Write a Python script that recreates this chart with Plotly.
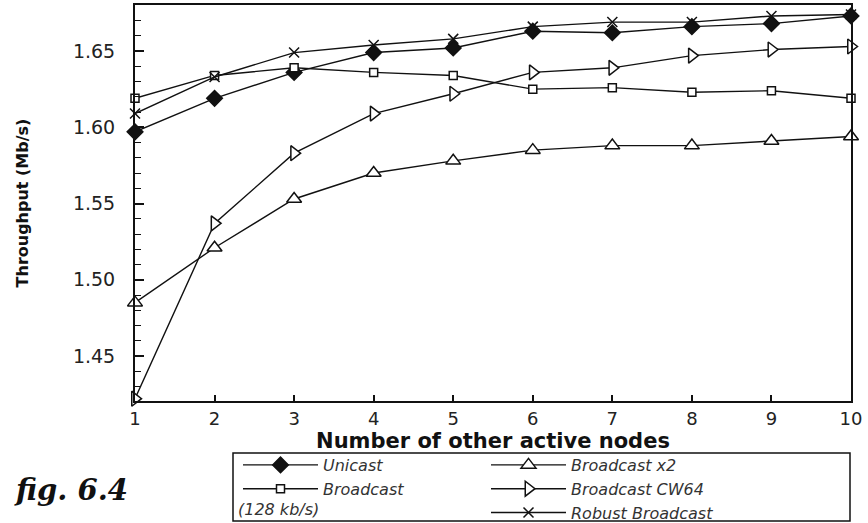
import plotly.graph_objects as go

nodes = [1, 2, 3, 4, 5, 6, 7, 8, 9, 10]
unicast = [1.597, 1.619, 1.636, 1.649, 1.652, 1.663, 1.662, 1.666, 1.668, 1.673]
broadcast_x2 = [1.485, 1.521, 1.553, 1.570, 1.578, 1.585, 1.588, 1.588, 1.591, 1.594]
broadcast = [1.619, 1.634, 1.639, 1.636, 1.634, 1.625, 1.626, 1.623, 1.624, 1.619]
broadcast_cw64 = [1.422, 1.537, 1.583, 1.609, 1.622, 1.636, 1.639, 1.647, 1.651, 1.653]
robust = [1.609, 1.633, 1.649, 1.654, 1.658, 1.666, 1.669, 1.669, 1.673, 1.674]

y_range = [1.4205, 1.6802]
y_ticks = [1.45, 1.50, 1.55, 1.60, 1.65]

# plot-area geometry in pixels (used only to place legend / notes)
PL, PR, PT, PB = 135, 851, 5, 401
PW, PH = PR - PL, PB - PT

def px(x):
    return (x - PL) / PW

def py(y):
    return (PB - y) / PH

LINE = dict(color="#111111", width=1.4)

fig = go.Figure()

def add(name, y, symbol, size, filled):
    fig.add_trace(go.Scatter(
        x=nodes, y=y, name=name, mode="lines+markers",
        line=LINE, cliponaxis=False,
        marker=dict(symbol=symbol, size=size,
                    color="#111111" if filled else "white",
                    line=dict(color="#111111", width=1.5)),
    ))

add("Unicast", unicast, "diamond", 12, True)
add("Broadcast x2", broadcast_x2, "triangle-up", 13, False)
add("Broadcast", broadcast, "square", 8, False)
add("Broadcast CW64", broadcast_cw64, "triangle-right", 13, False)
# placeholder legend slot (row 3, column 1) for the "(128 kb/s)" note
fig.add_trace(go.Scatter(x=[None], y=[None], name=" ", mode="lines",
                         line=dict(width=0, color="rgba(0,0,0,0)")))
add("Robust Broadcast", robust, "x-thin-open", 10, False)
fig.data[-1].marker.color = "#111111"

fig.update_layout(
    width=868, height=523,
    margin=dict(l=PL, r=868 - PR, t=PT, b=523 - PB, autoexpand=False),
    paper_bgcolor="white", plot_bgcolor="white",
    font=dict(family="DejaVu Sans", color="#222222"),
    showlegend=True,
    legend=dict(
        orientation="h", x=px(238), y=py(448), xanchor="left", yanchor="top",
        entrywidth=158, entrywidthmode="pixels",
        borderwidth=0, bgcolor="rgba(0,0,0,0)",
        font=dict(family="DejaVu Sans", size=16, style="italic", color="#333333"),
        itemwidth=75, tracegroupgap=0,
    ),
    xaxis=dict(
        range=[1, 10], tick0=1, dtick=1,
        ticks="inside", ticklen=6, tickwidth=1.5, tickcolor="#111111",
        showline=True, linewidth=2, linecolor="#111111", mirror=True,
        showgrid=False, zeroline=False,
        tickfont=dict(family="DejaVu Sans", size=18, color="#222222"),
        ticklabelstandoff=0,
        title=dict(text="Number of other active nodes", standoff=2,
                   font=dict(family="DejaVu Sans", size=21, weight="bold", color="#111111")),
    ),
    yaxis=dict(
        range=y_range, tickvals=y_ticks, tickformat=".2f",
        ticks="inside", ticklen=9, tickwidth=1.5, tickcolor="#111111",
        minor=dict(dtick=0.01, tick0=1.45, ticks="inside", ticklen=6,
                   tickwidth=1.2, tickcolor="#111111"),
        showline=True, linewidth=2, linecolor="#111111", mirror=True,
        showgrid=False, zeroline=False,
        tickfont=dict(family="DejaVu Sans", size=19, color="#222222"),
        ticklabelstandoff=14,
        title=dict(text="Throughput (Mb/s)", standoff=40,
                   font=dict(family="DejaVu Sans", size=16, weight="bold", color="#111111")),
    ),
    shapes=[
        dict(type="rect", xref="paper", yref="paper",
             x0=px(233), x1=px(850), y0=py(453), y1=py(521),
             line=dict(color="#111111", width=1.5), fillcolor="rgba(0,0,0,0)"),
    ],
    annotations=[
        dict(text="(128 kb/s)", xref="paper", yref="paper",
             x=px(236), y=py(509), xanchor="left", yanchor="middle",
             showarrow=False,
             font=dict(family="DejaVu Sans", size=16, style="italic", color="#333333")),
        dict(text="fig. 6.4", xref="paper", yref="paper",
             x=px(12), y=py(490), xanchor="left", yanchor="middle",
             showarrow=False,
             font=dict(family="DejaVu Serif", size=29, style="italic", weight="bold",
                       color="#111111")),
    ],
)

fig.write_html("out.html")
